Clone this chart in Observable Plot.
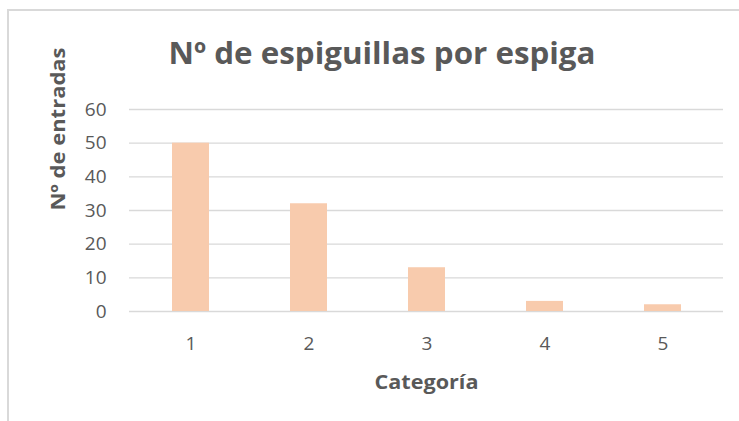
<!DOCTYPE html>
<html>
<head>
<meta charset="utf-8">
<script src="https://cdn.jsdelivr.net/npm/d3@7"></script>
<script src="https://cdn.jsdelivr.net/npm/@observablehq/plot@0.6"></script>
<style>
  html, body { margin: 0; padding: 0; background: #fff; overflow: hidden; }
  #wrap { position: relative; width: 739px; height: 421px; }
  #border { position: absolute; left: 7px; top: 9px; width: 800px; height: 500px;
            border-left: 2px solid #d9d9d9; border-top: 2px solid #d9d9d9; }
  #chart { position: absolute; left: 0; top: 0; }
</style>
</head>
<body>
<div id="wrap"><div id="border"></div><div id="chart"></div></div>
<script>
const categories = [1, 2, 3, 4, 5];
const values = [50, 32, 13, 3, 2];
const yTicks = [0, 10, 20, 30, 40, 50, 60];
const title = "Nº de espiguillas por espiga";
const xLabel = "Categoría";
const yLabel = "Nº de entradas";

const data = categories.map((c, i) => ({cat: c, value: values[i]}));
const textColor = "#595959";
const font = "'Open Sans', sans-serif";

const chart = Plot.plot({
  width: 739,
  height: 421,
  marginLeft: 129,
  marginRight: 16,
  marginTop: 109,
  marginBottom: 110,
  style: {fontFamily: font, color: textColor, background: "transparent"},
  x: {type: "band", domain: categories, paddingInner: 0.69, paddingOuter: 0.345, label: null},
  y: {domain: [0, 60], label: null},
  marks: [
    Plot.gridY(yTicks, {stroke: "#d9d9d9", strokeOpacity: 1, strokeWidth: 1.4}),
    Plot.barY(data, {x: "cat", y: "value", fill: "#F8CBAD"}),
    Plot.axisY(yTicks, {tickSize: 0, tickPadding: 23, fontSize: 19, fill: textColor, label: null}),
    Plot.axisX(categories, {tickSize: 0, tickPadding: 25, fontSize: 19, fill: textColor, label: null}),
    Plot.text([title], {frameAnchor: "top", dx: -44.5, dy: -55, fontSize: 31, fontWeight: "bold", fill: textColor, lineAnchor: "middle", className: "ttl"}),
    Plot.text([xLabel], {frameAnchor: "bottom", dy: 71, fontSize: 19, fontWeight: "bold", fill: textColor, lineAnchor: "middle", className: "xl"}),
    Plot.text([yLabel], {frameAnchor: "left", dx: -71, rotate: -90, fontSize: 20, fontWeight: "bold", fill: textColor, lineAnchor: "middle", className: "yl"})
  ]
});
document.getElementById("chart").appendChild(chart);

function fit(cls, len) {
  d3.select(chart).selectAll("g." + cls + " text")
    .attr("textLength", len).attr("lengthAdjust", "spacingAndGlyphs");
}
fit("ttl", 427);
fit("xl", 104);
fit("yl", 163);
</script>
</body>
</html>
